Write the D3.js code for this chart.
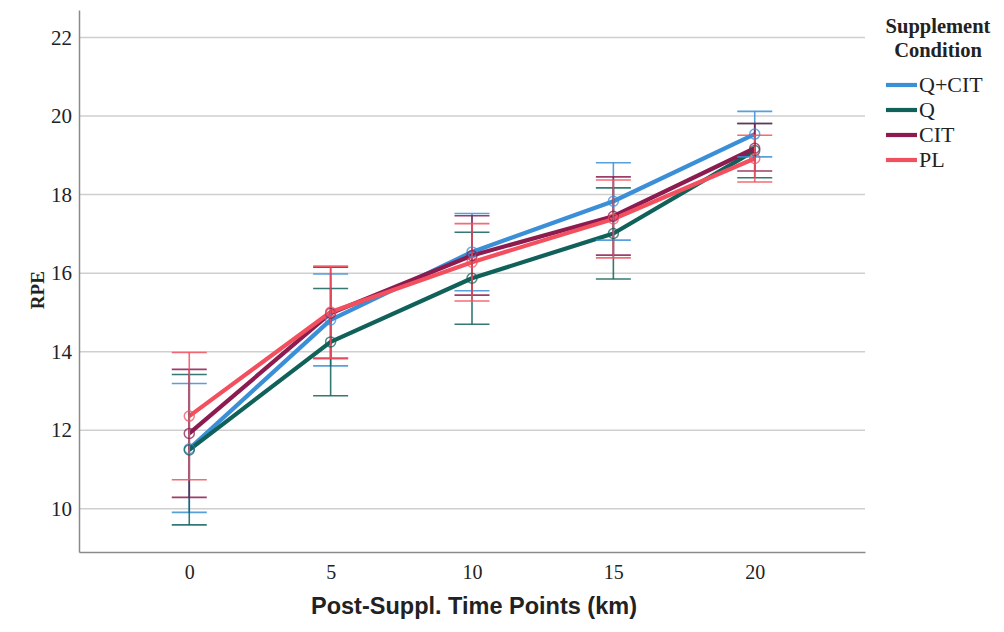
<!DOCTYPE html>
<html>
<head>
<meta charset="utf-8">
<script src="https://cdn.jsdelivr.net/npm/d3@7"></script>
<style>
  html, body { margin: 0; padding: 0; background: #fff; }
  svg { display: block; }
</style>
</head>
<body>
<svg id="chart" width="1004" height="632"></svg>
<script>
// Time points along the run (km after supplementation)
const timePoints = [0, 5, 10, 15, 20];
const yTicks = [10, 12, 14, 16, 18, 20, 22];

const seriesNames = ["Q+CIT", "Q", "CIT", "PL"];
const seriesColors = ["#3a8fd6", "#11615b", "#8c1b4f", "#f2505e"];

// Mean RPE per condition
const meanQCIT = [11.53, 14.81, 16.54, 17.83, 19.54];
const meanQ    = [11.50, 14.25, 15.87, 17.01, 19.12];
const meanCIT  = [11.92, 14.98, 16.45, 17.45, 19.18];
const meanPL   = [12.36, 15.01, 16.28, 17.38, 18.92];

// Error bar limits per condition
const lowQCIT = [9.91, 13.64, 15.55, 16.84, 18.96];
const upQCIT  = [13.19, 15.98, 17.52, 18.81, 20.12];
const lowQ    = [9.59, 12.88, 14.70, 15.85, 18.43];
const upQ     = [13.42, 15.61, 17.04, 18.17, 19.81];
const lowCIT  = [10.29, 13.83, 15.44, 16.46, 18.60];
const upCIT   = [13.55, 16.15, 17.46, 18.45, 19.81];
const lowPL   = [10.74, 13.83, 15.29, 16.39, 18.32];
const upPL    = [13.98, 16.18, 17.26, 18.37, 19.51];

const means = [meanQCIT, meanQ, meanCIT, meanPL];
const lows = [lowQCIT, lowQ, lowCIT, lowPL];
const ups = [upQCIT, upQ, upCIT, upPL];

const series = seriesNames.map((name, i) => ({
  name,
  color: seriesColors[i],
  points: timePoints.map((t, j) => ({ t, mean: means[i][j], lo: lows[i][j], hi: ups[i][j] }))
}));

const svg = d3.select("#chart");
const plotLeft = 79, plotRight = 865, plotTop = 10, plotBottom = 552;

const x = d3.scalePoint().domain(timePoints).range([plotLeft, plotRight]).padding(0.78);
const y = d3.scaleLinear().domain([8.9, 22.7]).range([plotBottom, plotTop]);

const serif = "'Liberation Serif', 'Times New Roman', serif";

// Gridlines
svg.append("g")
  .selectAll("line")
  .data(yTicks)
  .join("line")
  .attr("x1", plotLeft + 1).attr("x2", plotRight)
  .attr("y1", d => y(d)).attr("y2", d => y(d))
  .attr("stroke", "#cfcfcf").attr("stroke-width", 1.5);

// Y axis
const yAxis = svg.append("g")
  .attr("transform", `translate(${plotLeft},0)`)
  .call(d3.axisLeft(y).tickValues(yTicks).tickSize(0).tickPadding(7));
yAxis.select(".domain").attr("stroke", "#8a8a8a").attr("stroke-width", 1.5);
yAxis.selectAll("text").attr("font-family", serif).attr("font-size", 21).attr("fill", "#222");

// X axis
const xAxis = svg.append("g")
  .attr("transform", `translate(0,${plotBottom})`)
  .call(d3.axisBottom(x).tickSize(0).tickPadding(13));
xAxis.select(".domain").attr("stroke", "#8a8a8a").attr("stroke-width", 1.5);
xAxis.selectAll("text").attr("font-family", serif).attr("font-size", 20).attr("fill", "#222");

// Axis titles
svg.append("text")
  .attr("x", (plotLeft + plotRight) / 2 + 2).attr("y", 614)
  .attr("text-anchor", "middle")
  .attr("font-family", "'Liberation Sans', Arial, sans-serif")
  .attr("font-weight", "bold").attr("font-size", 23.5).attr("fill", "#222")
  .text("Post-Suppl. Time Points (km)");

svg.append("text")
  .attr("transform", `translate(44,${(y(22) + y(10)) / 2 + 17}) rotate(-90)`)
  .attr("text-anchor", "middle")
  .attr("font-family", serif).attr("font-weight", "bold").attr("font-size", 19).attr("fill", "#222")
  .text("RPE");

// Lines
const line = d3.line().x(d => x(d.t)).y(d => y(d.mean));
svg.append("g")
  .selectAll("path")
  .data(series)
  .join("path")
  .attr("d", d => line(d.points))
  .attr("fill", "none")
  .attr("stroke", d => d.color)
  .attr("stroke-width", 4.2)
  .attr("stroke-linejoin", "round");

// Error bars
const capHalf = 17.5;
const eb = svg.append("g")
  .selectAll("g")
  .data(series)
  .join("g")
  .attr("stroke", d => d.color)
  .attr("stroke-opacity", 0.85)
  .attr("stroke-width", 1.6);
eb.each(function (s) {
  const g = d3.select(this);
  g.selectAll("line.v").data(s.points).join("line").attr("class", "v")
    .attr("x1", d => x(d.t)).attr("x2", d => x(d.t))
    .attr("y1", d => y(d.lo)).attr("y2", d => y(d.hi));
  g.selectAll("line.hi").data(s.points).join("line").attr("class", "hi")
    .attr("x1", d => x(d.t) - capHalf).attr("x2", d => x(d.t) + capHalf)
    .attr("y1", d => y(d.hi)).attr("y2", d => y(d.hi));
  g.selectAll("line.lo").data(s.points).join("line").attr("class", "lo")
    .attr("x1", d => x(d.t) - capHalf).attr("x2", d => x(d.t) + capHalf)
    .attr("y1", d => y(d.lo)).attr("y2", d => y(d.lo));
});

// Mean markers
const mk = svg.append("g")
  .selectAll("g")
  .data(series)
  .join("g");
mk.each(function (s) {
  d3.select(this).selectAll("circle").data(s.points).join("circle")
    .attr("cx", d => x(d.t)).attr("cy", d => y(d.mean)).attr("r", 5)
    .attr("fill", "none")
    .attr("stroke", s.color).attr("stroke-opacity", 0.75).attr("stroke-width", 1.5);
});

// Legend
const legend = svg.append("g");
legend.append("text")
  .attr("x", 938).attr("y", 33)
  .attr("text-anchor", "middle")
  .attr("font-family", serif).attr("font-weight", "bold").attr("font-size", 20.5).attr("fill", "#222")
  .selectAll("tspan")
  .data(["Supplement", "Condition"])
  .join("tspan")
  .attr("x", 938)
  .attr("dy", (d, i) => i === 0 ? 0 : 24)
  .text(d => d);

const items = legend.selectAll("g.item")
  .data(series)
  .join("g")
  .attr("class", "item")
  .attr("transform", (d, i) => `translate(886,${85 + i * 25})`);
items.append("line")
  .attr("x1", 0).attr("x2", 31)
  .attr("stroke", d => d.color).attr("stroke-width", 4.2);
items.append("text")
  .attr("x", 33).attr("y", 7)
  .attr("font-family", serif).attr("font-size", 22).attr("fill", "#222")
  .text(d => d.name);
</script>
</body>
</html>
